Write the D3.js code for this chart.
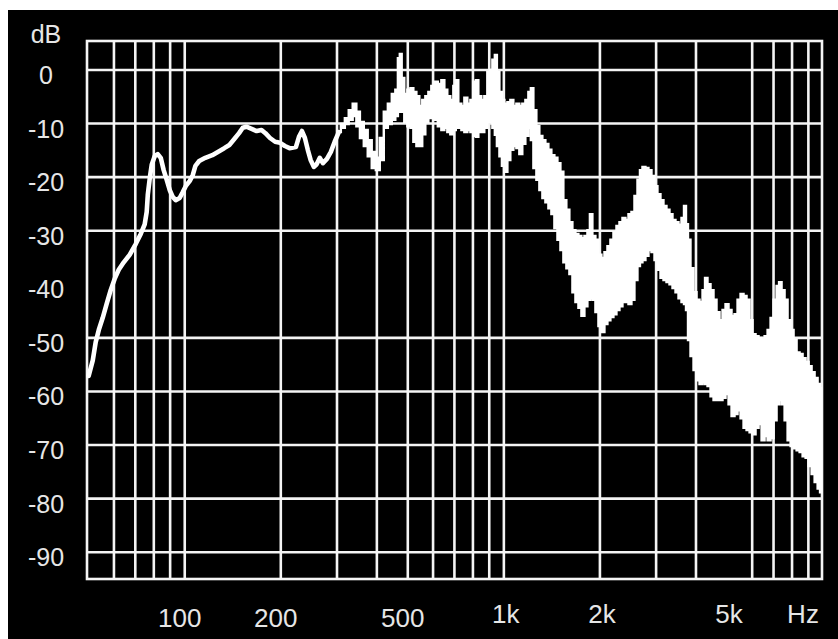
<!DOCTYPE html>
<html>
<head>
<meta charset="utf-8">
<script src="https://cdn.jsdelivr.net/npm/d3@7"></script>
<style>
  html, body { margin: 0; padding: 0; background: #fff; }
  svg { display: block; }
</style>
</head>
<body>
<script>
// Measured response: frequency (Hz), upper and lower edge of the trace (dB).
const freqs = [
  50.0, 51.5, 52.6, 53.8, 55.3, 56.9, 58.6, 60.3, 62.1, 64.4, 67.2, 70.2, 72.8, 74.9, 76.0, 76.6,
  77.7, 78.8, 80.5, 82.3, 84.1, 85.9, 87.8, 89.7, 91.7, 93.7, 96.4, 98.6, 100.7, 103.7, 106, 108,
  111, 116, 122, 127, 133, 138, 143, 148, 152, 156, 162, 168, 174, 179, 185, 192, 199, 206, 213,
  223, 228, 233, 238, 243, 248, 254, 259, 265, 271, 279, 287, 295, 304,
  313, 322, 331, 341, 349, 359, 369, 380, 391, 403, 414, 427, 439, 452, 462, 469, 475, 482, 493,
  504, 515, 526, 538, 549, 561, 574, 586, 599, 612, 630, 644, 658, 672, 687, 702, 712, 728, 744,
  760, 777, 794, 811, 823, 841, 859, 878, 897, 911, 930, 944, 958, 979, 993,
  1015, 1037, 1059, 1083, 1106, 1130, 1155, 1181, 1206, 1224, 1251, 1278, 1306, 1335, 1364, 1394,
  1424, 1456, 1488, 1520, 1553, 1587, 1622, 1658, 1694, 1731, 1769, 1808, 1847, 1874, 1915, 1957,
  2000, 2044, 2089, 2134, 2181, 2229, 2278, 2328, 2379, 2431, 2484, 2538, 2594, 2651, 2689, 2748,
  2808, 2870, 2933, 2997, 3062, 3130, 3198, 3268, 3340, 3413, 3488, 3564, 3642, 3695, 3749, 3803,
  3887, 3972, 4059, 4148, 4239, 4300, 4394, 4491, 4589, 4690, 4792, 4897, 5004, 5114, 5226, 5340,
  5457, 5577, 5699, 5824, 5952, 6082, 6215, 6351, 6490, 6633, 6778, 6926, 7078, 7233, 7338, 7499,
  7663, 7831, 8002, 8178, 8357, 8540, 8727, 8918, 9113, 9313, 9517, 9725, 9857
];
const upper = [
  -57.1, -54.2, -50.8, -48.5, -46.3, -43.7, -41.1, -39.0, -37.3, -35.9, -34.5, -32.5, -30.6, -28.8, -26.5, -23.3,
  -20.2, -17.7, -16.1, -15.7, -16.4, -18.7, -20.5, -22.4, -23.7, -24.3, -23.9, -22.8, -21.7, -20.7, -19.6, -17.9,
  -17.0, -16.4, -15.9, -15.3, -14.6, -14.0, -12.9, -11.8, -10.8, -10.6, -11.0, -11.4, -11.2, -11.8, -12.7, -13.4, -13.6, -14.2, -14.6,
  -14.4, -12.5, -11.4, -12.7, -14.9, -16.8, -18.1, -17.6, -16.4, -17.4, -16.6, -15.3, -13.4, -11.6,
  -10.1, -9.0, -7.5, -6.3, -7.8, -9.7, -11.2, -13.1, -15.3, -16.4, -12.7, -7.8, -6.3, -4.5, -3.7, 2.2, 3.0, -1.5, -4.5,
  -3.7, -3.4, -4.1, -4.9, -6.7, -5.6, -4.9, -4.1, -3.0, -2.2, -2.6, -1.9, -3.7, -4.9, -5.6, -3.0, -1.9, -6.3, -6.7,
  -5.2, -6.3, -5.6, -2.2, -1.9, -4.9, -5.6, -4.9, -0.4, 0.0, 1.9, 2.8, -0.4, -4.1, -5.6,
  -6.3, -6.0, -5.6, -6.7, -6.3, -6.7, -6.3, -5.6, -4.1, -3.4, -7.5, -10.5, -12.3, -13.1, -13.8, -14.9,
  -15.9, -16.4, -17.4, -19.0, -24.3, -26.1, -28.4, -29.9, -30.6, -31.0, -31.4, -31.0, -29.9, -26.9, -31.0, -31.7,
  -34.5, -35.1, -34.0, -32.9, -31.7, -30.3, -29.1, -28.4, -27.6, -28.0, -26.9, -26.5, -23.5, -20.5, -18.7, -18.1,
  -18.3, -18.7, -19.8, -21.7, -23.2, -24.3, -25.4, -26.1, -26.9, -28.0, -28.4, -28.9, -27.6, -25.4, -28.8, -31.7,
  -37.0, -41.5, -42.9, -43.3, -41.1, -38.8, -40.0, -41.1, -42.9, -45.2, -46.7, -44.8, -43.7, -44.8, -45.9, -45.6,
  -42.9, -41.8, -42.2, -42.9, -46.7, -49.3, -49.7, -50.0, -50.4, -49.7, -48.5, -46.3, -42.9, -40.3, -39.6, -41.1,
  -42.9, -46.7, -48.5, -50.4, -52.7, -53.0, -53.8, -54.5, -55.3, -56.4, -57.5, -58.6, -59.4
];
const lower = [
  -57.1, -54.2, -50.8, -48.5, -46.3, -43.7, -41.1, -39.0, -37.3, -35.9, -34.5, -32.5, -30.6, -28.8, -26.5, -23.3,
  -20.2, -17.7, -16.1, -15.7, -16.4, -18.7, -20.5, -22.4, -23.7, -24.3, -23.9, -22.8, -21.7, -20.7, -19.6, -17.9,
  -17.0, -16.4, -15.9, -15.3, -14.6, -14.0, -12.9, -11.8, -10.8, -10.6, -11.0, -11.4, -11.2, -11.8, -12.7, -13.4, -13.6, -14.2, -14.6,
  -14.4, -12.5, -11.4, -12.7, -14.9, -16.8, -18.1, -17.6, -16.4, -17.4, -16.6, -15.3, -13.4, -11.6,
  -10.8, -10.1, -9.3, -8.6, -10.5, -12.7, -14.2, -16.1, -18.3, -18.7, -16.8, -10.8, -10.1, -9.3, -8.6, -7.8, -7.5, -7.8, -9.7,
  -10.5, -10.8, -13.4, -14.2, -14.2, -12.0, -9.7, -9.0, -9.0, -9.3, -10.5, -11.2, -10.8, -11.6, -12.0, -11.2, -10.8, -10.8, -11.2,
  -11.6, -11.2, -11.6, -12.3, -12.5, -11.6, -11.6, -10.8, -9.7, -9.7, -10.8, -12.1, -14.2, -16.1, -17.9,
  -19.0, -16.8, -14.9, -14.2, -14.6, -15.7, -13.8, -12.3, -10.8, -13.1, -18.3, -20.5, -22.4, -23.9, -24.7, -25.8,
  -26.9, -29.5, -31.7, -33.6, -35.9, -37.0, -38.1, -41.5, -43.3, -44.4, -45.9, -44.1, -42.9, -42.6, -42.9, -45.2,
  -47.8, -48.9, -47.4, -46.7, -46.1, -45.6, -44.8, -44.1, -43.3, -43.3, -43.7, -42.9, -39.2, -36.6, -35.9, -35.5,
  -34.7, -33.6, -34.0, -35.5, -37.3, -38.8, -39.2, -39.6, -40.0, -40.7, -41.5, -42.6, -43.3, -43.7, -44.8, -50.4,
  -53.4, -56.0, -57.9, -58.6, -58.3, -58.6, -59.0, -60.9, -61.6, -61.6, -61.6, -61.2, -60.5, -62.4, -64.6, -64.2,
  -63.5, -65.0, -66.8, -67.2, -67.6, -68.0, -66.8, -66.1, -69.1, -68.3, -69.1, -68.7, -65.4, -62.4, -61.6, -62.4,
  -65.4, -69.1, -70.2, -70.6, -71.0, -71.3, -72.1, -72.4, -73.9, -75.4, -76.9, -78.1, -78.8
];

// Grid positions
const gridFreqs = [60, 70, 80, 90, 100, 200, 300, 400, 500, 600, 700, 800, 900,
                   1000, 2000, 3000, 4000, 6000, 7000, 8000, 9000];
const gridLevels = [0, -10, -20, -30, -50, -60, -70, -80, -90];

// Axis labels
const levelTicks = [0, -10, -20, -30, -40, -50, -60, -70, -80, -90];
const freqTicks = [100, 200, 500, 1000, 2000, 5000];
const freqTickLabels = ["100", "200", "500", "1k", "2k", "5k"];
const levelUnit = "dB";
const freqUnit = "Hz";

const W = 838, H = 639;
const plot = { left: 87, right: 822, top: 41, bottom: 579 };

const svg = d3.select("body").append("svg")
  .attr("width", W).attr("height", H);

svg.append("rect").attr("width", W).attr("height", H).attr("fill", "#fff");
svg.append("rect").attr("x", 8).attr("y", 10)
  .attr("width", W - 8).attr("height", H - 10).attr("fill", "#000");

const x = d3.scaleLog().domain([49.4, 9930]).range([plot.left, plot.right]);
const y = d3.scaleLinear().domain([-95, 5.4]).range([plot.bottom, plot.top]);

const gridColor = "#f4f4f4";
const gridWidth = 2.6;

// Grid
const grid = svg.append("g");
grid.selectAll("line.v").data(gridFreqs).join("line")
  .attr("class", "v")
  .attr("x1", d => x(d)).attr("x2", d => x(d))
  .attr("y1", plot.top).attr("y2", plot.bottom)
  .attr("stroke", gridColor).attr("stroke-width", gridWidth);
grid.selectAll("line.h").data(gridLevels).join("line")
  .attr("class", "h")
  .attr("x1", plot.left).attr("x2", plot.right)
  .attr("y1", d => y(d)).attr("y2", d => y(d))
  .attr("stroke", gridColor).attr("stroke-width", gridWidth);
grid.append("rect")
  .attr("x", plot.left).attr("y", plot.top)
  .attr("width", plot.right - plot.left).attr("height", plot.bottom - plot.top)
  .attr("fill", "none").attr("stroke", gridColor).attr("stroke-width", gridWidth);

// Response trace: a single line where the edges meet, a jagged band where they spread
const trace = freqs.map((f, i) => ({ f, hi: upper[i], lo: lower[i] }));
const split = trace.findIndex(d => d.hi !== d.lo);
const smooth = trace.slice(0, split);
const band = trace.slice(split - 1);

svg.append("path")
  .datum(smooth)
  .attr("d", d3.line().x(d => x(d.f)).y(d => y(d.hi)).curve(d3.curveLinear))
  .attr("fill", "none")
  .attr("stroke", "#fff")
  .attr("stroke-width", 4.6)
  .attr("stroke-linejoin", "round")
  .attr("stroke-linecap", "round");

svg.append("path")
  .datum(band)
  .attr("d", d3.area()
    .x(d => x(d.f))
    .y0(d => y(d.lo))
    .y1(d => y(d.hi))
    .curve(d3.curveStep))
  .attr("fill", "#fff")
  .attr("stroke", "#fff")
  .attr("stroke-width", 2.4)
  .attr("stroke-linejoin", "miter");

// Labels
const font = "'Liberation Sans', Arial, sans-serif";
const textColor = "#e6e6e6";
const labelX = 46;

svg.append("text")
  .attr("x", labelX).attr("y", 43)
  .attr("text-anchor", "middle")
  .attr("font-family", font).attr("font-size", 25)
  .attr("fill", textColor)
  .text(levelUnit);

svg.append("g").selectAll("text").data(levelTicks).join("text")
  .attr("x", labelX)
  .attr("y", d => y(d) + 14)
  .attr("text-anchor", "middle")
  .attr("font-family", font).attr("font-size", 25)
  .attr("fill", textColor)
  .text(d => d);

svg.append("g").selectAll("text").data(freqTicks).join("text")
  .attr("x", (d, i) => x(d) + (freqTickLabels[i].length === 3 ? -5 : 2))
  .attr("y", (d, i) => freqTickLabels[i].length === 3 ? 627 : 623)
  .attr("text-anchor", "middle")
  .attr("font-family", font).attr("font-size", 26)
  .attr("fill", textColor)
  .text((d, i) => freqTickLabels[i]);

svg.append("text")
  .attr("x", plot.right - 19).attr("y", 623)
  .attr("text-anchor", "middle")
  .attr("font-family", font).attr("font-size", 26)
  .attr("fill", textColor)
  .text(freqUnit);
</script>
</body>
</html>
